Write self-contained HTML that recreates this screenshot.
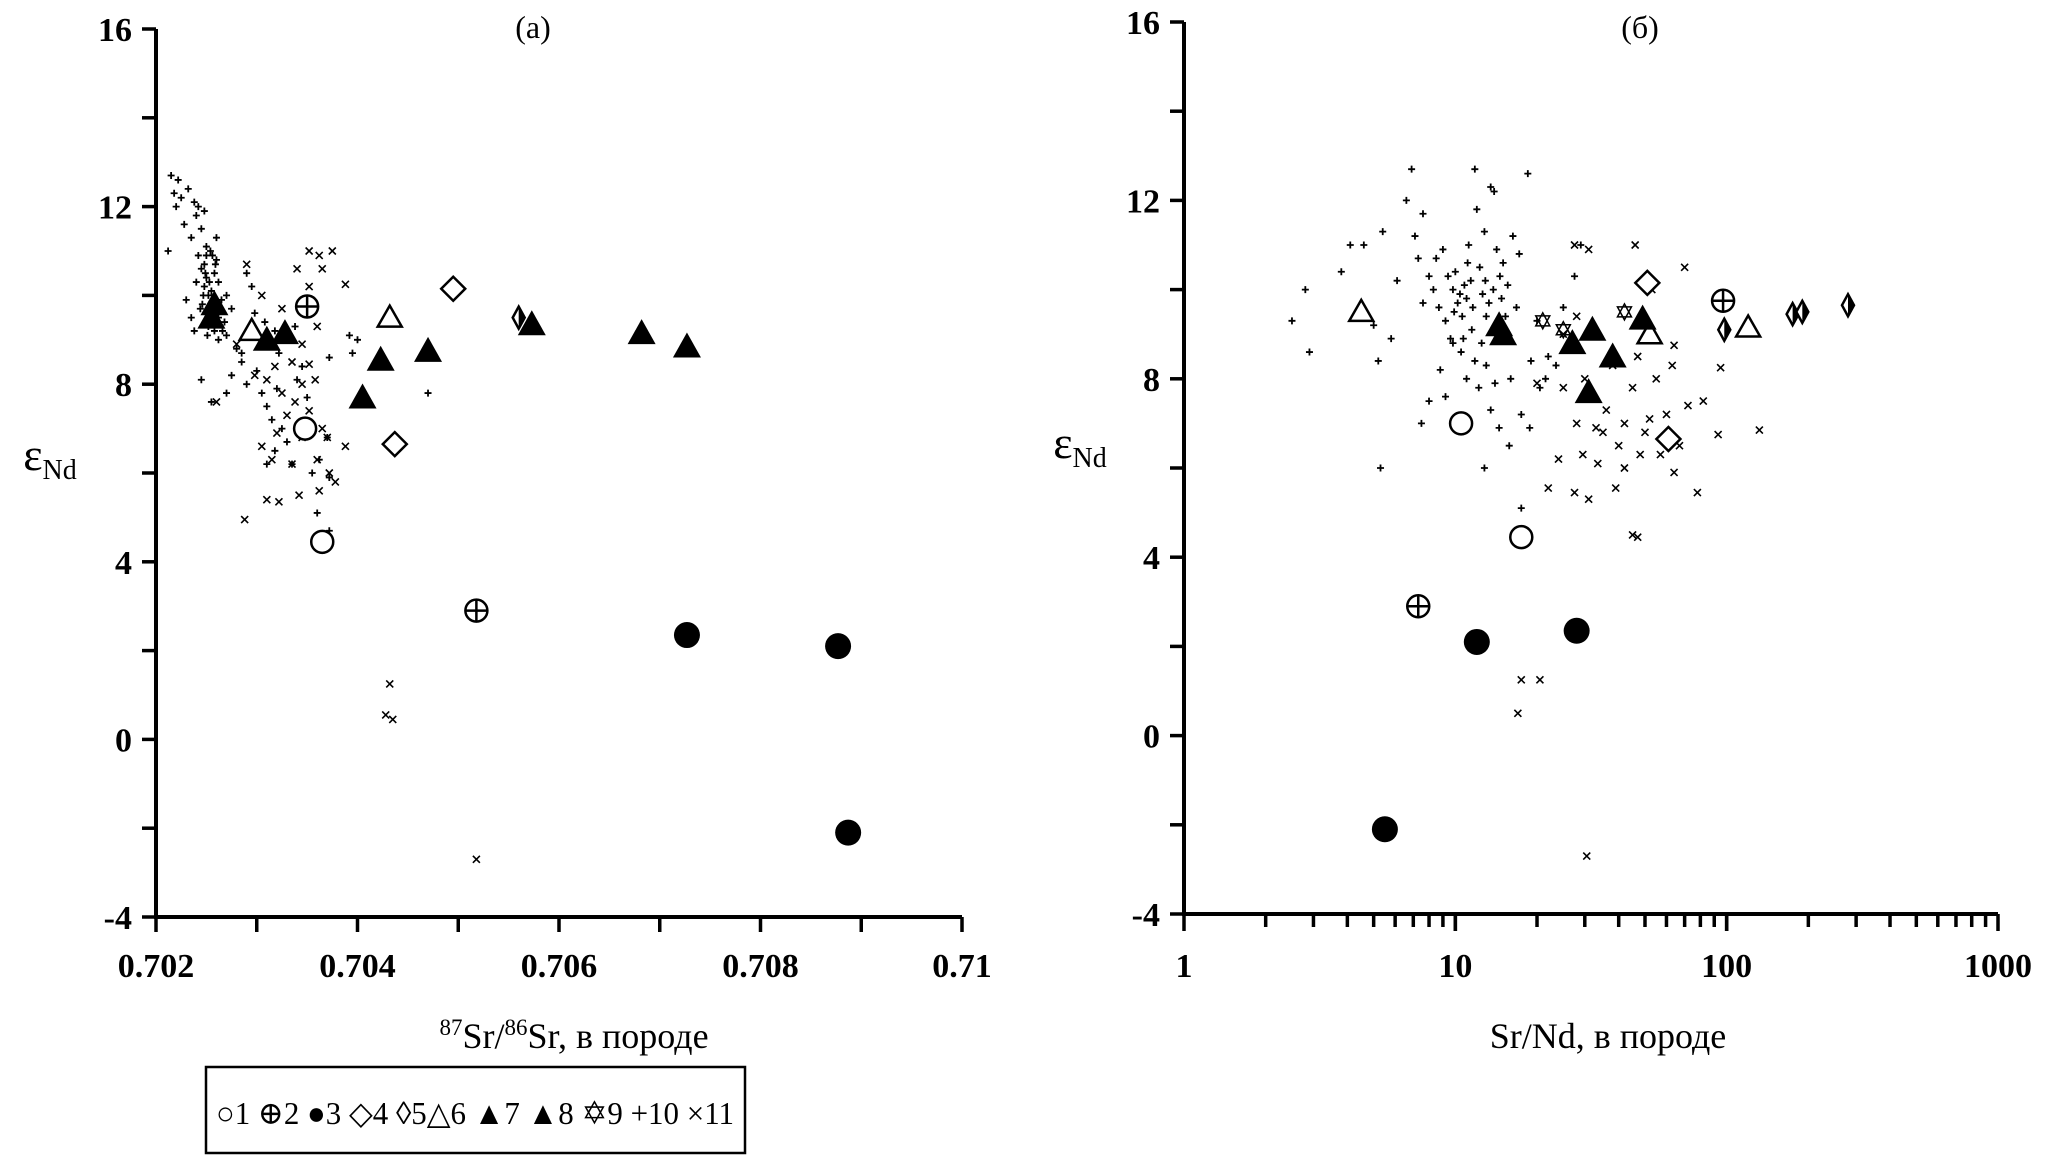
<!DOCTYPE html>
<html><head><meta charset="utf-8"><style>
body{margin:0;background:#fff;}
svg{display:block;}
svg text{font-family:"Liberation Serif","DejaVu Serif",serif;}
</style></head><body>
<svg id="chart" width="2045" height="1161" viewBox="0 0 2045 1161"></svg>
<script>
// ---------- data ----------
const yTicks=[-4,0,4,8,12,16];
const xTicksA=[0.702,0.704,0.706,0.708,0.71];
const xTickLabelsA=["0.702","0.704","0.706","0.708","0.71"];
const xTicksB=[1,10,100,1000];
// panel A big markers
const aCircle=[[0.70348,7.0],[0.70365,4.45]];
const aCrossCircle=[[0.7035,9.75],[0.70518,2.9]];
const aFilled=[[0.70727,2.35],[0.70877,2.1],[0.70887,-2.1]];
const aDiamond=[[0.70495,10.15],[0.70437,6.65]];
const aThinDiamond=[[0.7056,9.5]];
const aOpenTri=[[0.70432,9.5],[0.70295,9.2]];
const aFilledTri=[[0.70405,7.7],[0.70423,8.55],[0.7047,8.75],[0.70573,9.35],[0.70682,9.15],[0.70727,8.85],[0.70328,9.15],[0.7031,9.0],[0.70255,9.5],[0.70258,9.8]];
const aPlus=[[0.70215,12.7],[0.70222,12.6],[0.70218,12.3],[0.70225,12.2],[0.7022,12.0],[0.70232,12.4],[0.70238,12.1],[0.7024,11.8],[0.70228,11.6],[0.70212,11.0],[0.70235,11.3],[0.70245,11.5],[0.70248,11.9],[0.7025,11.1],[0.70242,10.9],[0.70245,10.6],[0.7025,10.4],[0.70248,10.2],[0.70252,10.0],[0.70246,9.8],[0.70255,9.6],[0.7026,10.8],[0.70258,10.5],[0.70262,10.3],[0.70255,10.1],[0.70265,9.9],[0.7025,9.4],[0.70258,9.2],[0.70262,9.0],[0.70268,9.4],[0.7027,10.0],[0.70275,9.7],[0.7027,9.1],[0.7028,8.8],[0.70285,8.5],[0.70275,8.2],[0.7029,8.0],[0.703,8.3],[0.70305,7.8],[0.7031,7.5],[0.70315,7.2],[0.7032,7.9],[0.70325,7.0],[0.7033,6.7],[0.70318,6.5],[0.7031,6.2],[0.70335,6.2],[0.7034,8.1],[0.70345,8.4],[0.7035,7.7],[0.70355,6.0],[0.70362,6.3],[0.7037,6.8],[0.70372,5.9],[0.7036,5.1],[0.70245,8.1],[0.70255,7.6],[0.7027,7.8],[0.70285,8.7],[0.70295,10.2],[0.7029,10.5],[0.7024,10.3],[0.7023,9.9],[0.70235,9.5],[0.70238,9.2],[0.7026,11.3],[0.70242,12.0],[0.70392,9.1],[0.704,9.0],[0.70395,8.7],[0.7047,7.8],[0.70372,8.6],[0.70298,9.6],[0.70308,9.4],[0.70318,9.2],[0.70305,8.9],[0.70322,8.7],[0.70338,9.3],[0.70372,4.7],[0.70248,10.7],[0.70252,9.3],[0.70256,10.9],[0.70244,9.7],[0.70262,9.5],[0.70249,10.5],[0.70253,10.3],[0.70247,10.0],[0.70257,9.9],[0.70263,9.7],[0.70251,9.1],[0.70266,9.2],[0.70259,10.7],[0.7025,10.9],[0.70254,11.0]];
const aCross=[[0.70352,11.0],[0.70362,10.9],[0.70375,11.0],[0.70365,10.6],[0.7034,10.6],[0.70352,10.2],[0.70388,10.25],[0.7029,10.7],[0.70305,10.0],[0.70325,9.7],[0.7036,9.3],[0.70345,8.9],[0.70318,8.4],[0.70335,8.5],[0.70352,8.45],[0.70358,8.1],[0.70345,8.0],[0.7031,8.1],[0.70325,7.8],[0.70338,7.6],[0.70352,7.4],[0.70365,7.0],[0.7037,6.8],[0.70345,6.8],[0.7032,6.9],[0.70305,6.6],[0.70315,6.3],[0.70335,6.2],[0.7036,6.3],[0.70372,6.0],[0.70362,5.6],[0.7031,5.4],[0.70322,5.35],[0.70342,5.5],[0.70378,5.8],[0.70388,6.6],[0.70288,4.95],[0.7026,7.6],[0.7028,8.9],[0.70368,4.5],[0.70432,1.25],[0.70428,0.55],[0.70435,0.45],[0.70518,-2.7],[0.70298,8.2],[0.7033,7.3]];
// panel B big markers
const bCircle=[[10.5,7.0],[17.5,4.45]];
const bCrossCircle=[[7.3,2.9],[97,9.75]];
const bFilled=[[12,2.1],[28,2.35],[5.5,-2.1]];
const bDiamond=[[51,10.15],[61,6.65]];
const bThinDiamond=[[98,9.1],[175,9.45],[190,9.5],[280,9.65]];
const bOpenTri=[[4.5,9.5],[120,9.15],[52,9.0]];
const bFilledTri=[[15,9.0],[14.5,9.2],[27,8.8],[32,9.1],[38,8.5],[49,9.35],[31,7.7]];
const bStar=[[21,9.3],[42,9.5],[25,9.1]];
const bPlus=[[2.5,9.3],[2.9,8.6],[2.8,10.0],[3.8,10.4],[4.1,11.0],[4.6,11.0],[5.4,11.3],[5.0,9.2],[5.2,8.4],[5.8,8.9],[6.1,10.2],[6.6,12.0],[6.9,12.7],[7.1,11.2],[7.6,11.7],[7.3,10.7],[8.0,10.3],[8.3,10.0],[8.7,9.6],[9.0,10.9],[9.4,10.3],[9.8,10.0],[10.2,9.7],[10.6,9.4],[11.0,9.8],[11.4,10.2],[12.0,11.8],[11.8,12.7],[12.3,10.5],[12.8,11.3],[13.5,12.3],[13.9,12.2],[14.2,10.9],[15.0,10.6],[15.6,10.1],[16.3,11.2],[17.2,10.8],[18.5,12.6],[16.8,9.6],[14.8,9.8],[13.0,9.4],[12.5,8.8],[11.8,8.4],[11.0,8.0],[10.5,8.6],[9.6,8.9],[8.8,8.2],[8.0,7.5],[7.5,7.0],[9.2,7.6],[12.2,7.8],[13.5,7.3],[14.5,6.9],[15.8,6.5],[17.5,7.2],[18.8,6.9],[20.5,7.8],[22.0,8.5],[23.5,8.3],[25.0,9.6],[27.5,10.3],[29.0,11.0],[20.0,9.3],[21.5,8.0],[12.8,6.0],[5.3,6.0],[17.5,5.1],[10.0,10.4],[11.2,11.0],[9.8,8.8],[13.0,8.3],[16.0,8.0],[7.6,9.7],[8.5,10.7],[14.0,7.9],[19.0,8.4],[10.8,10.1],[12.6,9.9],[9.2,9.3],[11.5,9.1],[13.8,10.0],[15.3,9.4],[10.4,9.9],[11.6,9.6],[12.9,10.2],[9.9,9.5],[11.1,10.6],[13.3,9.7],[14.6,10.3],[10.7,8.9]];
const bCross=[[17.5,1.25],[20.5,1.25],[17.0,0.5],[30.5,-2.7],[47,4.45],[45,4.5],[27.5,5.45],[31,5.3],[39,5.55],[78,5.45],[22,5.55],[24,6.2],[29.5,6.3],[33.5,6.1],[40,6.5],[48,6.3],[57,6.3],[64,5.9],[35,6.8],[42,7.0],[52,7.1],[60,7.2],[72,7.4],[82,7.5],[93,6.75],[132,6.85],[28,7.0],[36,7.3],[45,7.8],[55,8.0],[63,8.3],[25,7.8],[30,8.0],[38,8.3],[47,8.5],[53,8.9],[64,8.75],[95,8.25],[25,9.0],[28,9.4],[31,10.9],[27.5,11.0],[46,11.0],[70,10.5],[53,10.0],[20,7.9],[33,6.9],[42,6.0],[50,6.8],[67,6.5]];

// ---------- geometry ----------
const NS="http://www.w3.org/2000/svg";
const svg=document.getElementById('chart');
function el(tag,attrs,parent){const e=document.createElementNS(NS,tag);for(const k in attrs)e.setAttribute(k,attrs[k]);(parent||svg).appendChild(e);return e;}
const A={x0:156,x1:962,y0:917,y1:29,xmin:0.702,xmax:0.71};
const B={x0:1184,x1:1998,y0:914,y1:22};
const axA=v=>A.x0+(v-A.xmin)/(A.xmax-A.xmin)*(A.x1-A.x0);
const ayA=v=>A.y0+(v+4)/20*(A.y1-A.y0);
const axB=v=>B.x0+Math.log10(v)/3*(B.x1-B.x0);
const ayB=v=>B.y0+(v+4)/20*(B.y1-B.y0);

function marker(g,type,x,y){
  const r=11;
  if(type==='circle'){el('circle',{cx:x,cy:y,r:r,fill:'#fff',stroke:'#000','stroke-width':2.5},g);}
  else if(type==='crosscircle'){el('circle',{cx:x,cy:y,r:r,fill:'#fff',stroke:'#000','stroke-width':2.5},g);el('path',{d:`M${x-r} ${y}H${x+r}M${x} ${y-r}V${y+r}`,stroke:'#000','stroke-width':2.5},g);}
  else if(type==='filled'){el('circle',{cx:x,cy:y,r:r+2,fill:'#000'},g);}
  else if(type==='diamond'){el('path',{d:`M${x} ${y-12}L${x+12} ${y}L${x} ${y+12}L${x-12} ${y}Z`,fill:'#fff',stroke:'#000','stroke-width':2.5},g);}
  else if(type==='thindiamond'){el('path',{d:`M${x} ${y-11}L${x+6} ${y}L${x} ${y+11}L${x-6} ${y}Z`,fill:'#fff',stroke:'#000','stroke-width':2.5},g);el('path',{d:`M${x} ${y-11}L${x+6} ${y}L${x} ${y+11}Z`,fill:'#000'},g);}
  else if(type==='opentri'){el('path',{d:`M${x} ${y-12}L${x+12} ${y+9}L${x-12} ${y+9}Z`,fill:'#fff',stroke:'#000','stroke-width':2.5},g);}
  else if(type==='filledtri'){el('path',{d:`M${x} ${y-14}L${x+14} ${y+11}L${x-14} ${y+11}Z`,fill:'#000'},g);}
  else if(type==='star'){el('path',{d:`M${x} ${y-8}L${x+7} ${y+5}L${x-7} ${y+5}ZM${x} ${y+8}L${x+7} ${y-5}L${x-7} ${y-5}Z`,fill:'none',stroke:'#000','stroke-width':1.5},g);}
  else if(type==='plus'){el('path',{d:`M${x-3.5} ${y}H${x+3.5}M${x} ${y-3.5}V${y+3.5}`,stroke:'#000','stroke-width':1.8},g);}
  else if(type==='cross'){el('path',{d:`M${x-3.5} ${y-3.5}L${x+3.5} ${y+3.5}M${x+3.5} ${y-3.5}L${x-3.5} ${y+3.5}`,stroke:'#000','stroke-width':1.6},g);}
}
function series(arr,type,fx,fy,name){
  const g=el('g',{});
  
  
  arr.forEach(p=>marker(g,type,fx(p[0]),fy(p[1])));
}
function axes(P,fy,name,yLabelX,yLabelY){
  const g=el('g',{});
  
  
  el('path',{d:`M${P.x0} ${P.y1}V${P.y0}H${P.x1}`,fill:'none',stroke:'#000','stroke-width':4},g);
  for(let v=-4;v<=16;v+=2){el('line',{x1:P.x0-14,x2:P.x0,y1:fy(v),y2:fy(v),stroke:'#000','stroke-width':3.5},g);}
  yTicks.forEach(v=>{const t=el('text',{x:P.x0-24,y:fy(v)+12,'text-anchor':'end','font-size':34,'font-weight':'bold'},g);t.textContent=v;});
  const yl=el('text',{x:yLabelX,y:yLabelY,'font-size':46,'text-anchor':'middle'},g);
  yl.innerHTML='ε<tspan font-size="28" dy="9">Nd</tspan>';
}
// panel A
axes(A,ayA,'y-axis-a',50,470);
const gxa=el('g',{});


for(let i=0;i<=8;i++){const v=0.702+i*0.001;el('line',{x1:axA(v),x2:axA(v),y1:A.y0,y2:A.y0+15,stroke:'#000','stroke-width':3.5},gxa);}
xTicksA.forEach((v,i)=>{const t=el('text',{x:axA(v),y:A.y0+60,'text-anchor':'middle','font-size':34,'font-weight':'bold'},gxa);t.textContent=xTickLabelsA[i];});
const xla=el('text',{x:574,y:1048,'text-anchor':'middle','font-size':36},gxa);
xla.innerHTML='<tspan font-size="23" dy="-13">87</tspan><tspan dy="13">Sr/</tspan><tspan font-size="23" dy="-13">86</tspan><tspan dy="13">Sr, в породе</tspan>';
const ta=el('text',{x:533,y:38,'text-anchor':'middle','font-size':32});


ta.textContent='(a)';
series(aPlus,'plus',axA,ayA,'series-10-a');
series(aCross,'cross',axA,ayA,'series-11-a');
series(aCircle,'circle',axA,ayA,'series-1-a');
series(aCrossCircle,'crosscircle',axA,ayA,'series-2-a');
series(aFilled,'filled',axA,ayA,'series-3-a');
series(aDiamond,'diamond',axA,ayA,'series-4-a');
series(aThinDiamond,'thindiamond',axA,ayA,'series-5-a');
series(aOpenTri,'opentri',axA,ayA,'series-6-a');
series(aFilledTri,'filledtri',axA,ayA,'series-8-a');
// panel B
axes(B,ayB,'y-axis-b',1080,458);
const gxb=el('g',{});


for(let d=0;d<3;d++){for(let m=1;m<=10;m++){const v=Math.pow(10,d)*m;el('line',{x1:axB(v),x2:axB(v),y1:B.y0,y2:B.y0+(m===1||m===10?17:13),stroke:'#000','stroke-width':3.5},gxb);}}
xTicksB.forEach(v=>{const t=el('text',{x:axB(v),y:B.y0+63,'text-anchor':'middle','font-size':34,'font-weight':'bold'},gxb);t.textContent=v;});
const xlb=el('text',{x:1608,y:1048,'text-anchor':'middle','font-size':36},gxb);
xlb.textContent='Sr/Nd, в породе';
const tb=el('text',{x:1640,y:38,'text-anchor':'middle','font-size':32});


tb.textContent='(б)';
series(bPlus,'plus',axB,ayB,'series-10-b');
series(bCross,'cross',axB,ayB,'series-11-b');
series(bStar,'star',axB,ayB,'series-9-b');
series(bCircle,'circle',axB,ayB,'series-1-b');
series(bCrossCircle,'crosscircle',axB,ayB,'series-2-b');
series(bFilled,'filled',axB,ayB,'series-3-b');
series(bDiamond,'diamond',axB,ayB,'series-4-b');
series(bThinDiamond,'thindiamond',axB,ayB,'series-5-b');
series(bOpenTri,'opentri',axB,ayB,'series-6-b');
series(bFilledTri,'filledtri',axB,ayB,'series-8-b');
// legend
const lg=el('g',{});


el('rect',{x:206,y:1067,width:539,height:86,fill:'#fff',stroke:'#000','stroke-width':2.5},lg);
const lt=el('text',{x:216,y:1124,'font-size':32,textLength:518,lengthAdjust:'spacingAndGlyphs'},lg);
lt.textContent='○1 ⊕2 ●3 ◇4 ◊5△6 ▲7 ▲8 ✡9 +10 ×11';
</script>
</body></html>
